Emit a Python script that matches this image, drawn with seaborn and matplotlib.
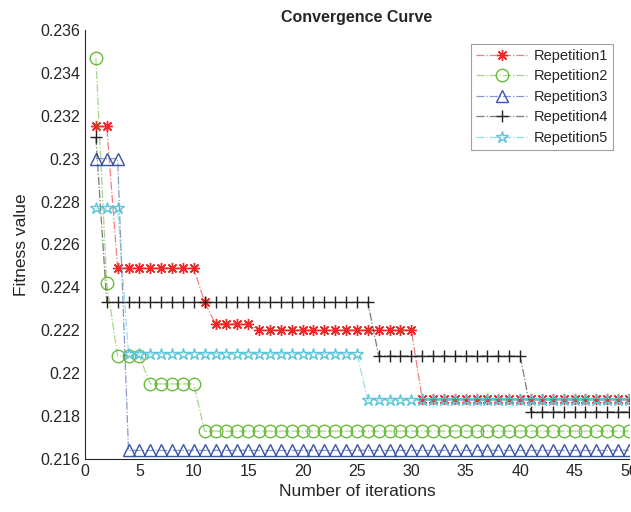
import matplotlib
matplotlib.use("Agg")
import matplotlib.pyplot as plt
import seaborn as sns
import pandas as pd
import numpy as np

# iterations 1..50
iterations = list(range(1, 51))

rep1 = [0.2315] * 2 + [0.2249] * 8 + [0.2233] + [0.2223] * 4 + [0.2220] * 15 + [0.2188] * 20
rep2 = [0.2347, 0.2242] + [0.2208] * 3 + [0.2195] * 5 + [0.2173] * 40
rep3 = [0.2300] * 3 + [0.2164] * 47
rep4 = [0.2310] + [0.2233] * 25 + [0.2208] * 14 + [0.2182] * 10
rep5 = [0.2277] * 3 + [0.2209] * 22 + [0.21875] * 25

names = ["Repetition1", "Repetition2", "Repetition3", "Repetition4", "Repetition5"]
series = [rep1, rep2, rep3, rep4, rep5]

colors = ["#F02828", "#6CBB3C", "#3A54A6", "#222222", "#5BC6DA"]
markers = [(8, 2, 0), "o", "^", "+", "*"]
msizes = [8, 9, 9, 9, 9]

sns.set_style("white")
plt.rcParams["font.family"] = ["Liberation Sans", "DejaVu Sans"]

fig = plt.figure(figsize=(6.31, 5.12), dpi=100)
ax = fig.add_axes([0.1347, 0.1035, 0.862, 0.838])

for name, vals, c, m, ms in zip(names, series, colors, markers, msizes):
    df = pd.DataFrame({"iter": iterations, "fit": vals})
    rgba = matplotlib.colors.to_rgba(c, 0.6)
    sns.lineplot(data=df, x="iter", y="fit", ax=ax, color=rgba, linestyle="-.",
                 linewidth=0.9, marker=m, markersize=ms, markeredgecolor=c,
                 markerfacecolor="none", markeredgewidth=1.0, label=name)

ax.set_xlim(0, 50)
ax.set_ylim(0.216, 0.236)
ax.set_xticks(np.arange(0, 51, 5))
yt = np.arange(0.216, 0.2361, 0.002)
ax.set_yticks(yt)
ax.set_yticklabels([("%.3f" % v).rstrip("0") for v in yt])
ax.tick_params(direction="in", length=5, labelsize=11.5, colors="#262626", width=0.8)
for s in ["top", "right"]:
    ax.spines[s].set_visible(False)
for s in ["left", "bottom"]:
    ax.spines[s].set_color("#262626")
    ax.spines[s].set_linewidth(0.8)

ax.set_xlabel("Number of iterations", fontsize=12.5, color="#262626")
ax.set_ylabel("Fitness value", fontsize=12.5, color="#262626", labelpad=8)
ax.set_title("Convergence Curve", fontsize=11.5, fontweight="bold", color="#262626")

leg = ax.legend(loc="upper right", bbox_to_anchor=(0.985, 0.985), fontsize=10.5,
                frameon=True, fancybox=False, borderpad=0.35, labelspacing=0.45,
                handlelength=3.6, handletextpad=0.4)
leg.get_frame().set_edgecolor("#888888")
leg.get_frame().set_linewidth(0.8)

fig.savefig("out.png", dpi=100)
